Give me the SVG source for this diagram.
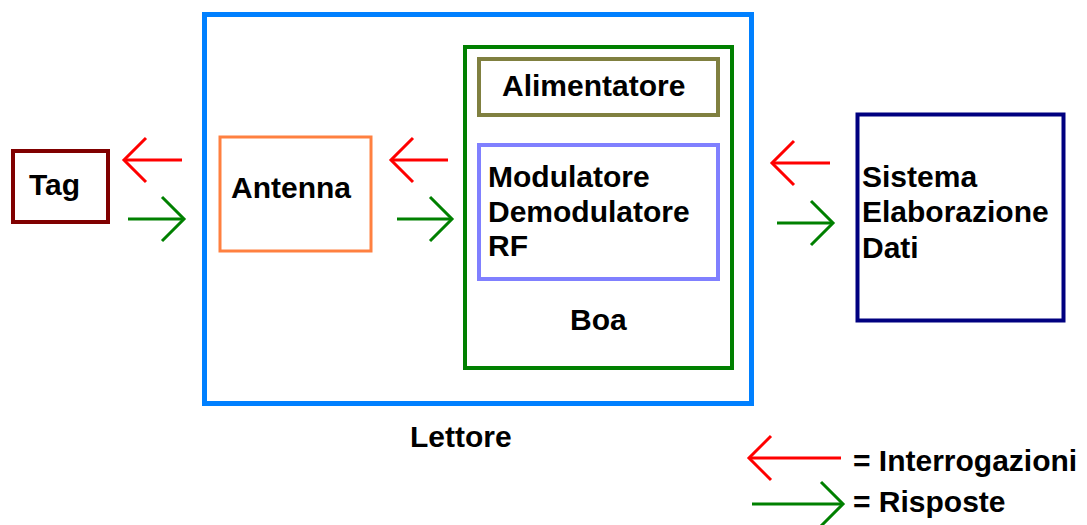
<svg xmlns="http://www.w3.org/2000/svg" width="1087" height="525" viewBox="0 0 1087 525">
<defs>
<style>
text{font-family:"Liberation Sans",Arial,sans-serif;font-weight:bold;font-size:30px;fill:#000}
.box{fill:none}
.q{stroke:#ff0000;stroke-width:3;fill:none}
.r{stroke:#008000;stroke-width:3;fill:none}
</style>
<marker id="hq" markerUnits="userSpaceOnUse" viewBox="-25 -25 30 50" refX="0" refY="0" markerWidth="30" markerHeight="50" orient="auto">
<path d="M-22,-22 L0,0 L-22,22" fill="none" stroke="#ff0000" stroke-width="3"/>
</marker>
<marker id="hr" markerUnits="userSpaceOnUse" viewBox="-25 -25 30 50" refX="0" refY="0" markerWidth="30" markerHeight="50" orient="auto">
<path d="M-22,-22 L0,0 L-22,22" fill="none" stroke="#008000" stroke-width="3"/>
</marker>
</defs>
<rect width="1087" height="525" fill="#fff"/>
<g id="lettore">
<rect class="box" x="204.5" y="14.5" width="547" height="389" stroke="#0080ff" stroke-width="5"/>
<text x="410" y="447">Lettore</text>
</g>
<g id="tag">
<rect class="box" x="13" y="151" width="95" height="71" stroke="#800000" stroke-width="4"/>
<text x="29" y="195">Tag</text>
</g>
<g id="antenna">
<rect class="box" x="220" y="137" width="151" height="114" stroke="#ff8040" stroke-width="3"/>
<text x="231" y="198">Antenna</text>
</g>
<g id="boa">
<rect class="box" x="465" y="47" width="267" height="321" stroke="#008000" stroke-width="4"/>
<text x="570" y="330">Boa</text>
</g>
<g id="alimentatore">
<rect class="box" x="479" y="59" width="239" height="56" stroke="#808040" stroke-width="4"/>
<text x="502" y="96">Alimentatore</text>
</g>
<g id="modulatore">
<rect class="box" x="479" y="145" width="239" height="134" stroke="#8080ff" stroke-width="4"/>
<text x="488" y="187">Modulatore</text>
<text x="488" y="222">Demodulatore</text>
<text x="488" y="256">RF</text>
</g>
<g id="sistema">
<rect class="box" x="857.5" y="114.5" width="206" height="206" stroke="#000080" stroke-width="4"/>
<text x="862" y="187">Sistema</text>
<text x="862" y="222">Elaborazione</text>
<text x="862" y="258">Dati</text>
</g>
<g id="connectors">
<line class="q" x1="182" y1="160" x2="124" y2="160" marker-end="url(#hq)"/>
<line class="r" x1="128" y1="219" x2="184" y2="219" marker-end="url(#hr)"/>
<line class="q" x1="448" y1="160" x2="391" y2="160" marker-end="url(#hq)"/>
<line class="r" x1="397" y1="219" x2="452" y2="219" marker-end="url(#hr)"/>
<line class="q" x1="830" y1="163" x2="772" y2="163" marker-end="url(#hq)"/>
<line class="r" x1="777" y1="223" x2="833" y2="223" marker-end="url(#hr)"/>
</g>
<g id="legenda">
<line class="q" x1="841" y1="458" x2="749" y2="458" marker-end="url(#hq)"/>
<text x="853" y="471">= Interrogazioni</text>
<line class="r" x1="752" y1="504" x2="843" y2="504" marker-end="url(#hr)"/>
<text x="853" y="512">= Risposte</text>
</g>
</svg>
